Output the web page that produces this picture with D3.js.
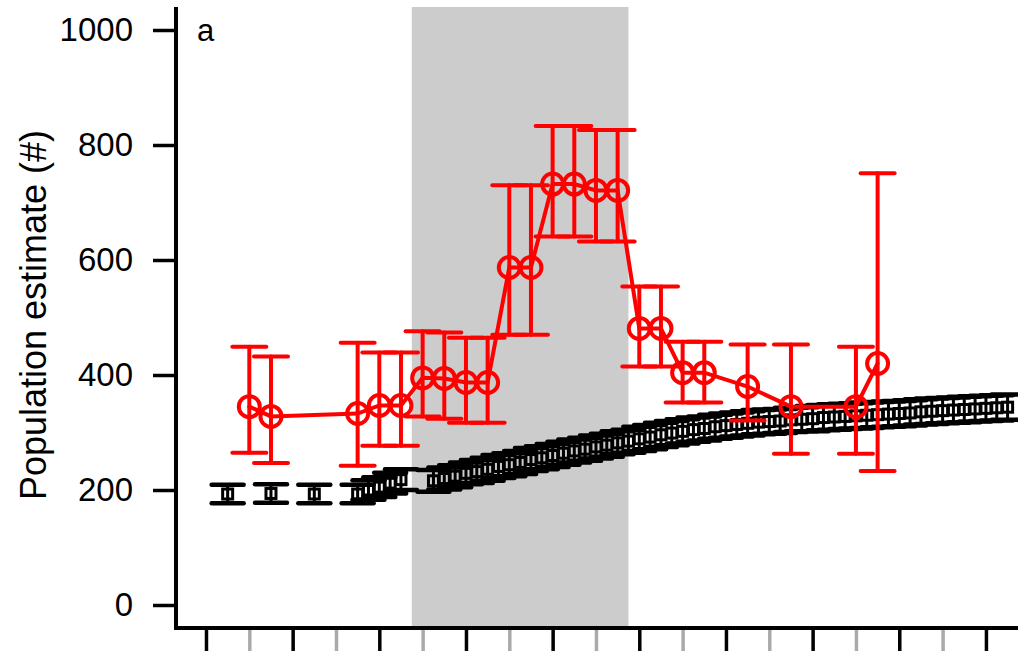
<!DOCTYPE html>
<html><head><meta charset="utf-8">
<script src="https://cdn.jsdelivr.net/npm/d3@7"></script>
<style>body{margin:0;background:#fff}svg{display:block}text{font-family:"Liberation Sans",Arial,sans-serif}</style>
</head><body><svg id="c" width="1026" height="651"></svg>
<script>
// Red series (circles)
const redX  = [1,1.5,3.5,4,4.5,5,5.5,6,6.5,7,7.5,8,8.5,9,9.5,10,10.5,11,11.5,12.5,13.5,15,15.5];
const redY  = [345,328,333,347,347,395,394,387,387,587,587,732,732,721,721,481,481,404,404,380,345,345,420];
const redLo = [265,247,242,277,277,328,324,317,317,470,470,641,641,632,632,415,415,352,352,321,263,263,233];
const redHi = [449,432,456,439,439,476,474,465,465,730,730,833,833,826,826,554,554,458,458,453,453,449,751];
// Black series (squares)
const blkX  = [0.5,1.5,2.5,3.5,3.75,4,4.25,4.5,
  5.25,5.5,5.75,6,6.25,6.5,6.75,7,7.25,7.5,7.75,8,8.25,8.5,8.75,9,9.25,9.5,9.75,
  10,10.25,10.5,10.75,11,11.25,11.5,11.75,12,12.25,12.5,12.75,13,13.25,13.5,13.75,
  14,14.25,14.5,14.75,15,15.25,15.5,15.75,16,16.25,16.5,16.75,17,17.25,17.5,17.75,18,18.25,18.5];
const blkY  = [193,194,193,193,200,205,212,218,
  216,220,224,229,232,236,241,244,248,253,256,260,264,268,271,275,278,282,285,
  289,292,296,299,302,305,307,310,312,314,316,318,319,320,322,323,
  324,326,327,328,329,330,331,332,333,334,336,337,338,339,340,341,342,343,344];
const blkErr= [16,16,16,16,17,17,18,18,
  19,19,19,19,20,20,20,20,20,20,20,20,20,20,20,20,20,20,20,
  21,21,21,21,21,21,21,21,21,21,21,21,21,21,21,21,
  22,22,22,22,22,22,22,22,22,22,22,22,22,22,22,22,22,22,22];
const yTicks = [0,200,400,600,800,1000];
const xTicks = d3.range(0,19);
const shade = [4.75, 9.75];

const svg = d3.select("#c");
const x = d3.scaleLinear().domain([-0.692, 18.74]).range([176, 1018]);
const y = d3.scaleLinear().domain([-40, 1040]).range([628, 7]);

svg.append("clipPath").attr("id", "plot").append("rect")
  .attr("x", x(-0.692)).attr("y", y(1040)).attr("width", x(18.74) - x(-0.692)).attr("height", y(-40) - y(1040));
const plot = svg.append("g").attr("clip-path", "url(#plot)");

plot.append("rect").attr("x", x(shade[0])).attr("y", y(1040)).attr("width", x(shade[1]) - x(shade[0])).attr("height", y(-40) - y(1040)).attr("fill", "#cccccc");

// black series
const bg = plot.append("g").attr("stroke", "#000").attr("stroke-linecap", "round").attr("fill", "none");
blkX.forEach((xv, i) => {
  const cx = x(xv), lo = y(blkY[i] - blkErr[i]), hi = y(blkY[i] + blkErr[i]);
  bg.append("line").attr("x1", cx).attr("x2", cx).attr("y1", lo).attr("y2", hi).attr("stroke-width", 3);
  bg.append("line").attr("x1", cx - 16).attr("x2", cx + 16).attr("y1", lo).attr("y2", lo).attr("stroke-width", 4.5);
  bg.append("line").attr("x1", cx - 16).attr("x2", cx + 16).attr("y1", hi).attr("y2", hi).attr("stroke-width", 4.5);
  bg.append("rect").attr("x", cx - 5).attr("y", y(blkY[i]) - 5).attr("width", 10).attr("height", 10).attr("stroke-width", 3);
});

// red series
const rg = plot.append("g").attr("stroke", "#ff0000").attr("stroke-width", 4).attr("fill", "none").attr("stroke-linecap", "round");
rg.append("path").attr("d", d3.line().x((d, i) => x(redX[i])).y(d => y(d))(redY));
redX.forEach((xv, i) => {
  const cx = x(xv), lo = y(redLo[i]), hi = y(redHi[i]);
  rg.append("line").attr("x1", cx).attr("x2", cx).attr("y1", lo).attr("y2", hi);
  rg.append("line").attr("x1", cx - 17).attr("x2", cx + 17).attr("y1", lo).attr("y2", lo);
  rg.append("line").attr("x1", cx - 17).attr("x2", cx + 17).attr("y1", hi).attr("y2", hi);
  rg.append("circle").attr("cx", cx).attr("cy", y(redY[i])).attr("r", 10.5);
});

// axes
const yAxis = svg.append("g").attr("transform", "translate(176,0)")
  .call(d3.axisLeft(y).tickValues(yTicks).tickSize(23).tickPadding(20).tickFormat(d3.format("d")));
yAxis.select(".domain").remove();
yAxis.selectAll(".tick line").attr("stroke", "#000").attr("stroke-width", 3.5);
yAxis.selectAll("text").attr("font-size", 33).attr("fill", "#000");

const xAxis = svg.append("g").attr("transform", "translate(0,628)")
  .call(d3.axisBottom(x).tickValues(xTicks).tickSize(24).tickFormat(""));
xAxis.select(".domain").remove();
xAxis.selectAll(".tick line").attr("stroke", (d) => d % 2 === 0 ? "#000" : "#aaaaaa").attr("stroke-width", 3.5);

svg.append("path").attr("d", `M176,${y(1040)}V628H1018`).attr("fill", "none").attr("stroke", "#000").attr("stroke-width", 4);

svg.append("text").attr("x", 197).attr("y", 41).attr("font-size", 31).text("a");
svg.append("text").attr("transform", "translate(46,315) rotate(-90)").attr("text-anchor", "middle").attr("font-size", 36).text("Population estimate (#)");
</script></body></html>
